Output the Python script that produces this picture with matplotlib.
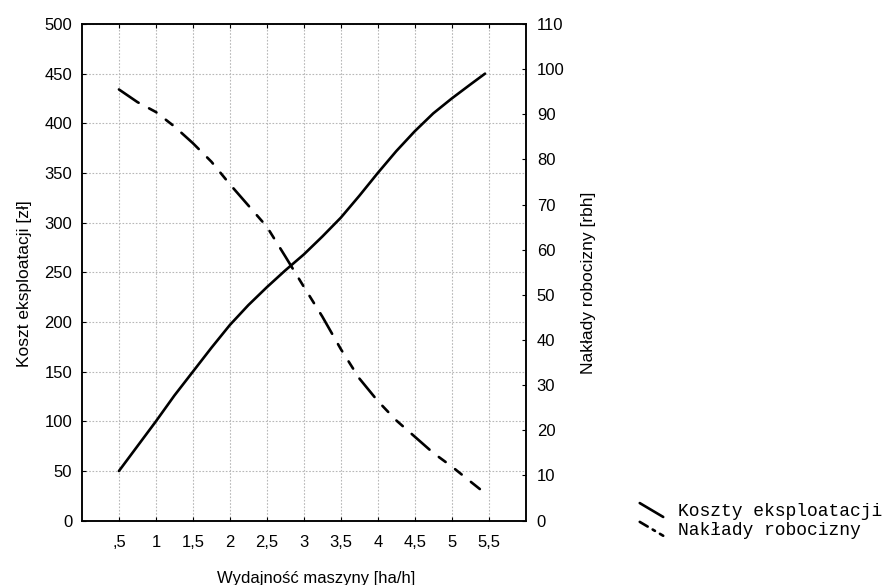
import matplotlib
matplotlib.use("Agg")
import matplotlib.pyplot as plt
from matplotlib.lines import Line2D
from matplotlib.legend_handler import HandlerBase

plt.rcParams['font.family'] = ['Liberation Sans', 'DejaVu Sans']
plt.rcParams['font.size'] = 12

wydajnosc = [0.5, 0.75, 1.0, 1.25, 1.5, 1.75, 2.0, 2.25, 2.5, 2.75, 3.0,
             3.25, 3.5, 3.75, 4.0, 4.25, 4.5, 4.75, 5.0, 5.25, 5.45]
koszty = [50, 75, 100, 126, 150, 174, 197, 217, 235, 252, 268,
          286, 305, 327, 350, 372, 392, 410, 425, 439, 450]

wydajnosc2 = [0.5, 0.75, 1.0, 1.25, 1.5, 1.75, 2.0, 2.25, 2.5, 2.75, 3.0,
              3.25, 3.5, 3.75, 4.0, 4.25, 4.5, 4.75, 5.0, 5.25, 5.38]
naklady = [95.5, 92.7, 90.5, 87.3, 83.6, 79.5, 74.5, 69.8, 65.1, 58.5, 51.8,
           45.2, 38.0, 31.5, 26.5, 22.2, 18.6, 15.0, 12.0, 8.7, 7.0]

xticks = [0.5, 1, 1.5, 2, 2.5, 3, 3.5, 4, 4.5, 5, 5.5]
xtick_labels = [",5", "1", "1,5", "2", "2,5", "3", "3,5", "4", "4,5", "5", "5,5"]
yticks_left = list(range(0, 501, 50))
yticks_right = list(range(0, 111, 10))


class DiagHandler(HandlerBase):
    # probka linii w legendzie rysowana ukosnie
    def create_artists(self, legend, orig, xdescent, ydescent, width, height,
                       fontsize, trans):
        line = Line2D([-xdescent, width - xdescent],
                      [height * 1.05 - ydescent, -height * 0.05 - ydescent])
        line.update_from(orig)
        if orig.get_linestyle() != "-":
            line.set_dashes([3.5, 2.2, 1.0, 2.2])
        line.set_clip_on(False)
        line.set_clip_box(None)
        line.set_transform(trans)
        return [line]


fig = plt.figure(figsize=(8.91, 5.85), dpi=100)
ax = fig.add_axes([0.092, 0.110, 0.498, 0.849])
ax2 = ax.twinx()

l1, = ax.plot(wydajnosc, koszty, color="black", lw=1.9,
              solid_capstyle="round", solid_joinstyle="round")
l2, = ax2.plot(wydajnosc2, naklady, color="black", lw=1.9,
               dash_capstyle="round", dash_joinstyle="round")
l2.set_dashes([9, 4.5, 3.2, 4.5, 3.2, 4.5])

ax.set_xlim(0, 6)
ax.set_ylim(0, 500)
ax2.set_ylim(0, 110)
ax.set_xticks(xticks)
ax.set_xticklabels(xtick_labels)
ax.set_yticks(yticks_left)
ax2.set_yticks(yticks_right)

ax.grid(True, color="#b8b8b8", linestyle=(0, (1.5, 1.5)), lw=0.8)
ax.tick_params(axis="both", direction="in", length=3, width=0.8,
               top=True, labelsize=12, pad=7)
ax.tick_params(axis="x", pad=10)
ax2.tick_params(axis="y", direction="in", length=3, width=0.8,
                labelsize=12, pad=8)
for a in (ax, ax2):
    for s in a.spines.values():
        s.set_linewidth(1.1)

ax.set_xlabel("Wydajność maszyny [ha/h]", fontsize=12)
ax.xaxis.set_label_coords(0.527, -0.101)
ax.set_ylabel("Koszt eksploatacji [zł]", fontsize=12.5, labelpad=9)
ax2.set_ylabel("Nakłady robocizny [rbh]", fontsize=12.5, labelpad=12)
ax.yaxis.label.set_y(0.478)
ax2.yaxis.label.set_y(0.478)

fig.legend([l1, l2], ["Koszty eksploatacji", "Nakłady robocizny"],
           loc="center left", bbox_to_anchor=(0.718, 0.109),
           frameon=False, handler_map={Line2D: DiagHandler()},
           prop={"family": ["Liberation Mono", "DejaVu Sans Mono"], "size": 13},
           handlelength=1.3, handletextpad=0.83, labelspacing=0.1,
           borderpad=0, borderaxespad=0)

fig.savefig("out.png", dpi=100)
